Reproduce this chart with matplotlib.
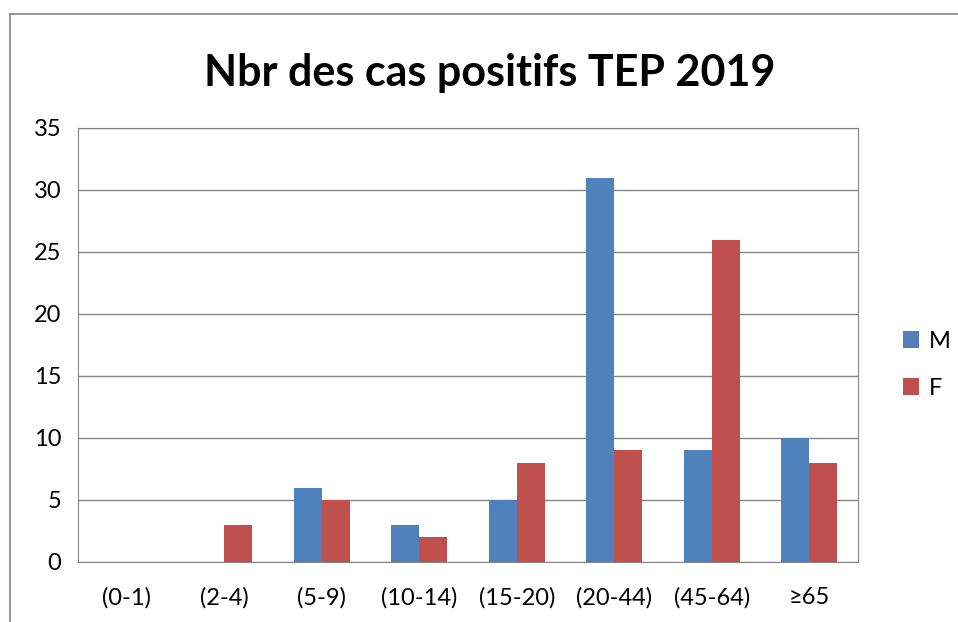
import matplotlib.pyplot as plt
import numpy as np
from matplotlib.lines import Line2D

categories = ['(0-1)', '(2-4)', '(5-9)', '(10-14)', '(15-20)', '(20-44)', '(45-64)', '≥65']
male = [0, 0, 6, 3, 5, 31, 9, 10]
female = [0, 3, 5, 2, 8, 9, 26, 8]

plt.rcParams['font.family'] = ['Lato', 'DejaVu Sans']

fig = plt.figure(figsize=(9.58, 6.22), dpi=100)
ax = fig.add_axes([78 / 958, 60 / 622, 780 / 958, 434 / 622])

x = np.arange(len(categories))
w = 1 / 3.5
ax.bar(x - w / 2, male, w, color='#4F81BD', label='M', zorder=3)
ax.bar(x + w / 2, female, w, color='#C0504D', label='F', zorder=3)

ax.set_xlim(-0.5, len(categories) - 0.5)
ax.set_ylim(0, 35)
ax.set_yticks(range(0, 36, 5))
ax.set_xticks(x)
ax.set_xticklabels(categories)
ax.yaxis.grid(True, color='#868686', linewidth=1, zorder=0)
ax.tick_params(length=0, labelsize=17)
ax.tick_params(axis='x', pad=18)
ax.tick_params(axis='y', pad=12)
for s in ax.spines.values():
    s.set_color('#868686')

ax.set_title('Nbr des cas positifs TEP 2019', fontsize=31, fontweight='bold',
             x=0.528, pad=30)

ax.legend(loc='center left', bbox_to_anchor=(1.03, 0.455), frameon=False,
          fontsize=17, handlelength=0.7, handleheight=0.7, handletextpad=0.4,
          labelspacing=1.1)

# outer chart frame
fig.add_artist(Line2D([10 / 958, 10 / 958], [0, 1 - 14 / 622], transform=fig.transFigure,
                      color='#868686', linewidth=1.2))
fig.add_artist(Line2D([10 / 958, 1], [1 - 14 / 622, 1 - 14 / 622], transform=fig.transFigure,
                      color='#868686', linewidth=1.2))

fig.savefig('out.png', dpi=100)
